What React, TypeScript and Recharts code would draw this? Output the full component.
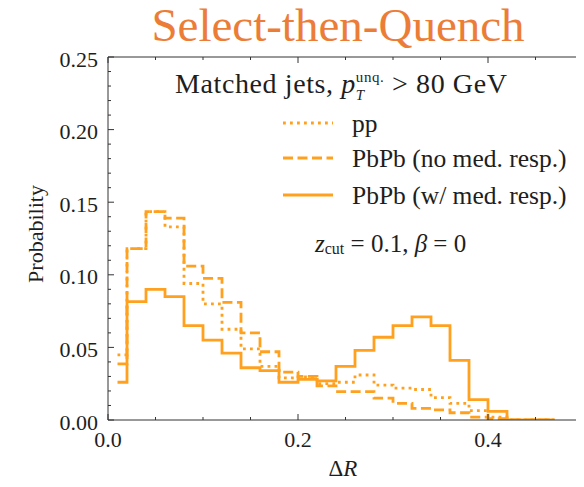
import React from 'react';
import { LineChart, Line, XAxis, YAxis } from 'recharts';

// bin centres of ΔR (bin width 0.02)
const binCenters = [
  0.01, 0.03, 0.05, 0.07, 0.09, 0.11, 0.13, 0.15, 0.17, 0.19, 0.21, 0.23,
  0.25, 0.27, 0.29, 0.31, 0.33, 0.35, 0.37, 0.39, 0.41, 0.43, 0.45, 0.47,
];

const ppValues = [
  0.0448, 0.118, 0.1435, 0.133, 0.094, 0.08, 0.0625, 0.049, 0.037, 0.029, 0.0296, 0.025,
  0.026, 0.031, 0.024, 0.022, 0.021, 0.0154, 0.0115, 0.0064, 0.002, 0, 0, 0,
];
const noRespValues = [
  0.0386, 0.118, 0.1435, 0.139, 0.106, 0.0976, 0.081, 0.06, 0.047, 0.033, 0.03, 0.0235,
  0.0195, 0.0195, 0.015, 0.0115, 0.008, 0.007, 0.005, 0.002, 0.001, 0, 0, 0,
];
const wRespValues = [
  0.026, 0.0815, 0.09, 0.085, 0.065, 0.055, 0.046, 0.036, 0.034, 0.026, 0.028, 0.027,
  0.037, 0.048, 0.057, 0.065, 0.071, 0.065, 0.041, 0.014, 0.006, 0, 0, 0,
];

const xTicks = [0, 0.05, 0.1, 0.15, 0.2, 0.25, 0.3, 0.35, 0.4, 0.45, 0.5];
const yTicks = [
  0, 0.01, 0.02, 0.03, 0.04, 0.05, 0.06, 0.07, 0.08, 0.09, 0.1, 0.11, 0.12, 0.13,
  0.14, 0.15, 0.16, 0.17, 0.18, 0.19, 0.2, 0.21, 0.22, 0.23, 0.24, 0.25,
];

const legendLabels = ['pp', 'PbPb (no med. resp.)', 'PbPb (w/ med. resp.)'];

const data = binCenters.map((x, i) => ({
  x,
  pp: ppValues[i],
  noResp: noRespValues[i],
  wResp: wRespValues[i],
}));

const ORANGE = '#ffa11f';
const AXIS = '#333';
const TEXT = '#1e1e1e';
const FONT = "'Liberation Serif', 'DejaVu Serif', serif";
const serif = { fontFamily: FONT };
const PLOT = { left: 108, right: 583, top: 57, bottom: 420 };

const isMajorY = (v: number) => Math.round(v * 100) % 5 === 0;
const isMajorX = (v: number) => Math.round(v * 100) % 20 === 0;

const LeftTick = (props: any) => {
  const { y, payload } = props;
  const major = isMajorY(payload.value);
  return (
    <g>
      <line x1={PLOT.left} x2={PLOT.left + (major ? 6 : 3)} y1={y} y2={y} stroke={AXIS} />
      {major && (
        <text x={98} y={y + 2} textAnchor="end" dominantBaseline="central" fontSize={22} style={serif} fill={TEXT}>
          {payload.value.toFixed(2)}
        </text>
      )}
    </g>
  );
};

const RightTick = (props: any) => {
  const { y, payload } = props;
  const major = isMajorY(payload.value);
  return <line x1={PLOT.right} x2={PLOT.right - (major ? 6 : 3)} y1={y} y2={y} stroke={AXIS} />;
};

const BottomTick = (props: any) => {
  const { x, payload } = props;
  const major = isMajorX(payload.value);
  return (
    <g>
      <line x1={x} x2={x} y1={PLOT.bottom} y2={PLOT.bottom - (major ? 6 : 3)} stroke={AXIS} />
      {major && (
        <text x={x} y={439} textAnchor="middle" dominantBaseline="central" fontSize={22} style={serif} fill={TEXT}>
          {payload.value.toFixed(1)}
        </text>
      )}
    </g>
  );
};

const TopTick = (props: any) => {
  const { x, payload } = props;
  const major = isMajorX(payload.value);
  return <line x1={x} x2={x} y1={PLOT.top} y2={PLOT.top + (major ? 6 : 3)} stroke={AXIS} />;
};

const dashes = ['2.8 4.2', '10 4.5', undefined];
const legendRows = [123, 158, 195];

export default function App() {
  return (
    <div style={{ position: 'relative', width: 584, height: 487, margin: -8, background: '#fff' }}>
      <LineChart width={584} height={487} data={data} margin={{ top: 56, right: 0, bottom: 0, left: 0 }}>
        <XAxis
          dataKey="x"
          type="number"
          domain={[0, 0.5]}
          ticks={xTicks}
          interval={0}
          height={67}
          tickLine={false}
          axisLine={{ stroke: AXIS }}
          tick={<BottomTick />}
          allowDataOverflow
        />
        <XAxis
          xAxisId="top"
          orientation="top"
          dataKey="x"
          type="number"
          domain={[0, 0.5]}
          ticks={xTicks}
          interval={0}
          height={1}
          tickLine={false}
          axisLine={{ stroke: AXIS }}
          tick={<TopTick />}
          allowDataOverflow
        />
        <YAxis
          type="number"
          domain={[0, 0.25]}
          ticks={yTicks}
          interval={0}
          width={108}
          tickLine={false}
          axisLine={{ stroke: AXIS }}
          tick={<LeftTick />}
          allowDataOverflow
        />
        <YAxis
          yAxisId="right"
          orientation="right"
          type="number"
          domain={[0, 0.25]}
          ticks={yTicks}
          interval={0}
          width={1}
          tickLine={false}
          axisLine={{ stroke: AXIS }}
          tick={<RightTick />}
          allowDataOverflow
        />
        <Line type="step" dataKey="pp" stroke={ORANGE} strokeWidth={2.8} strokeDasharray={dashes[0]} dot={false} isAnimationActive={false} />
        <Line type="step" dataKey="noResp" stroke={ORANGE} strokeWidth={2.8} strokeDasharray={dashes[1]} dot={false} isAnimationActive={false} />
        <Line type="step" dataKey="wResp" stroke={ORANGE} strokeWidth={2.8} dot={false} isAnimationActive={false} />
      </LineChart>

      <svg width={584} height={487} style={{ position: 'absolute', left: 0, top: 0, pointerEvents: 'none', fontFamily: FONT }}>
        <text x={338} y={41} textAnchor="middle" fontSize={47} fill="#ec7d37" style={serif}>Select-then-Quench</text>
        <text transform="translate(35,234) rotate(-90)" textAnchor="middle" dominantBaseline="central" fontSize={22} fill={TEXT} style={serif}>
          Probability
        </text>
        <text x={343} y={476} textAnchor="middle" fontSize={23} fill={TEXT} style={serif}>
          Δ<tspan fontStyle="italic">R</tspan>
        </text>
        <text x={175} y={93} fontSize={28} fill={TEXT} style={{ ...serif, letterSpacing: 0.6 }}>
          Matched jets, <tspan fontStyle="italic">p</tspan>
          <tspan fontSize={15} fontStyle="italic" dy={7}>T</tspan>
          <tspan fontSize={15} dx={-9} dy={-18}>unq.</tspan>
          <tspan dy={11}> &gt; 80 GeV</tspan>
        </text>
        {legendLabels.map((label, i) => (
          <g key={label}>
            <line x1={283} x2={333} y1={legendRows[i]} y2={legendRows[i]} stroke={ORANGE} strokeWidth={2.8} strokeDasharray={dashes[i]} />
            <text x={352} y={legendRows[i]} dominantBaseline="central" fontSize={25.5} fill={TEXT} style={serif}>{label}</text>
          </g>
        ))}
        <text x={315} y={243} dominantBaseline="central" fontSize={25} fill={TEXT} style={serif}>
          <tspan fontStyle="italic">z</tspan>
          <tspan fontSize={16} dy={5}>cut</tspan>
          <tspan dy={-5}> = 0.1, </tspan>
          <tspan fontStyle="italic">β</tspan> = 0
        </text>
      </svg>
    </div>
  );
}
